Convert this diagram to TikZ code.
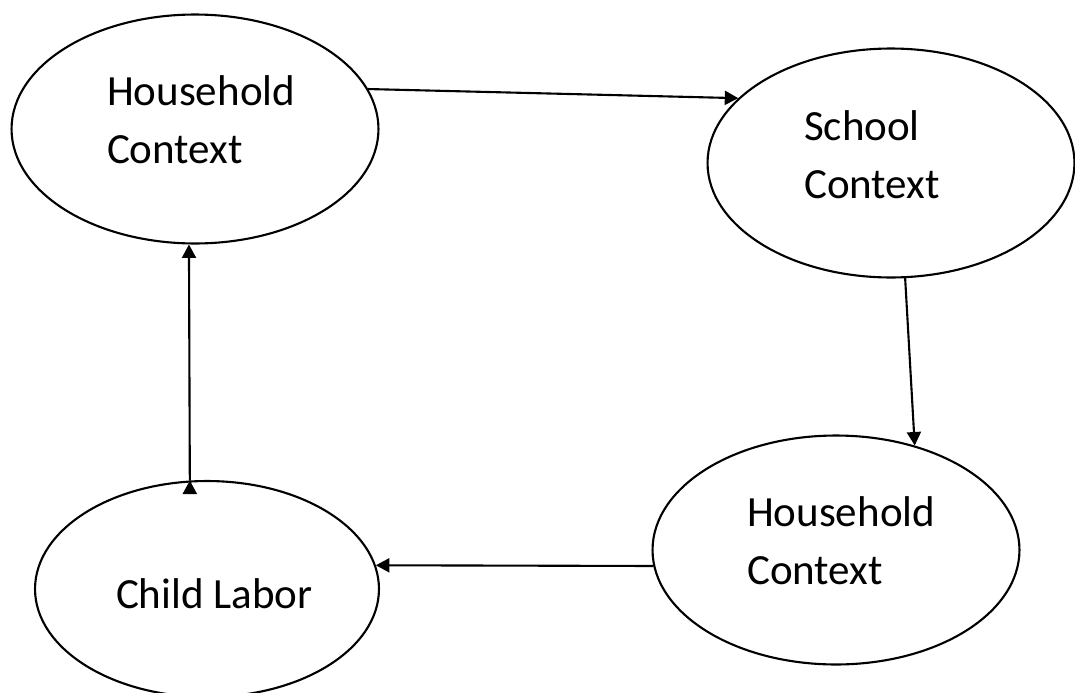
\documentclass[tikz,border=0pt]{standalone}
\usepackage{fontspec}
\setmainfont{Carlito}
\usetikzlibrary{arrows.meta,shapes,positioning}
\tikzset{
        ->, >={Triangle[length=0.27cm,width=0.28cm]},
	ctx/.style={draw, ellipse, inner sep=0pt, minimum width=7.34cm, minimum height=4.58cm},
	lbl/.style={align=left, inner sep=0pt, anchor=base west, font=\fontsize{24.5}{33}\selectfont},
}
\begin{document}
\begin{tikzpicture}[x=0.02cm, y=-0.02cm, line width=1.2pt]
		    \useasboundingbox (0,0) rectangle (1075,693);
		    \node[ctx] (home1) at (195,129) {};
		    \node[ctx] (school) at (891,163) {};
		    \node[ctx] (home2) at (836,550) {};
		    \node[ctx, minimum width=6.88cm, minimum height=4.32cm] (labor) at (207,589) {};
		    \node[lbl] (home1txt) at (106,163) {Household\\Context};
		    \node[lbl] (schooltxt) at (803,198) {School\\Context};
		    \node[lbl] (home2txt) at (746,584) {Household\\Context};
		    \node[lbl] (labortxt) at (115,608) {Child Labor};
		    \draw
			(home1.13) edge (school.157)
	            	(school.277) edge (home2.53)
	            	(home2.185) edge (labor.8)
	            	(labor.99) edge (home1.267);
		\end{tikzpicture}
\end{document}
